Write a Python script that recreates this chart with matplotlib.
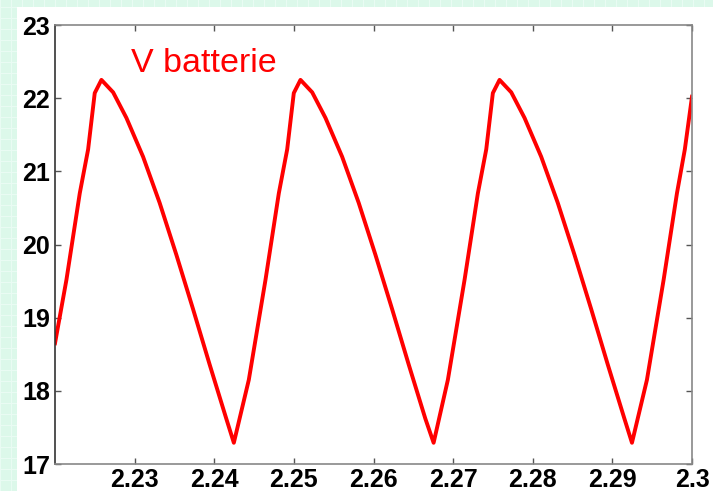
import matplotlib
matplotlib.use('Agg')
import matplotlib.pyplot as plt
from matplotlib.patches import Rectangle
from matplotlib.lines import Line2D

# battery voltage
t = [2.2200, 2.22144, 2.22311, 2.22416, 2.22499, 2.22583, 2.22730, 2.22897, 2.23106, 2.23314,
     2.23524, 2.23733, 2.23942, 2.24151, 2.24246,
     2.24434, 2.24644, 2.24811, 2.24916, 2.24999, 2.25083, 2.25230, 2.25397, 2.25606, 2.25814,
     2.26024, 2.26233, 2.26442, 2.26651, 2.26755,
     2.26934, 2.27144, 2.27311, 2.27416, 2.27499, 2.27583, 2.27730, 2.27897, 2.28106, 2.28314,
     2.28524, 2.28733, 2.28942, 2.29151, 2.29246,
     2.29434, 2.29644, 2.29811, 2.29910, 2.30000]
v_batt = [18.65, 19.52, 20.70, 21.30, 22.07, 22.25, 22.08, 21.73, 21.20, 20.57,
          19.86, 19.12, 18.36, 17.62, 17.29,
          18.15, 19.52, 20.70, 21.30, 22.07, 22.25, 22.08, 21.73, 21.20, 20.57,
          19.86, 19.12, 18.36, 17.62, 17.29,
          18.15, 19.52, 20.70, 21.30, 22.07, 22.25, 22.08, 21.73, 21.20, 20.57,
          19.86, 19.12, 18.36, 17.62, 17.29,
          18.15, 19.52, 20.70, 21.30, 22.02]

xticks = [2.23, 2.24, 2.25, 2.26, 2.27, 2.28, 2.29, 2.30]
xlabels = ['2.23', '2.24', '2.25', '2.26', '2.27', '2.28', '2.29', '2.3']
yticks = [17, 18, 19, 20, 21, 22, 23]

W, H = 713, 491
fig = plt.figure(figsize=(W / 100, H / 100), dpi=100, facecolor='#dcf8ea')
# slide-like background: pale grid strip with a white panel
for x in range(0, W, 11):
    fig.add_artist(Line2D([x / W, x / W], [0, 1], color='#e9fbf3', lw=0.8, zorder=0))
for y in range(0, H, 11):
    fig.add_artist(Line2D([0, 1], [y / H, y / H], color='#e9fbf3', lw=0.8, zorder=0))
fig.add_artist(Rectangle((17 / W, 0), 1, 1 - 7 / H, transform=fig.transFigure,
                         facecolor='white', edgecolor='none', zorder=1))

ax = fig.add_axes([55 / W, 27 / H, 637 / W, 439 / H])
ax.set_zorder(2)
ax.plot(t, v_batt, color='#ff0000', lw=2.8, solid_joinstyle='round')
ax.set_xlim(2.22, 2.30)
ax.set_ylim(17, 23)
ax.set_xticks(xticks)
ax.set_xticklabels(xlabels)
ax.set_yticks(yticks)
for lab in ax.get_xticklabels() + ax.get_yticklabels():
    lab.set_fontfamily('Liberation Sans'); lab.set_fontweight('bold'); lab.set_fontsize(18)
ax.tick_params(direction='in', length=4.5, width=1, color='#555555', top=True, right=True)
ax.tick_params(axis='y', pad=3.5)
ax.tick_params(axis='x', pad=3)
for s in ax.spines.values():
    s.set_color('#888888'); s.set_linewidth(1.2)
ax.spines['left'].set_color('#333333')
ax.text(2.2295, 22.47, 'V batterie', color='#ff0000', fontsize=24.5,
        fontfamily='Liberation Sans', va='center', ha='left')

fig.savefig('out.png', dpi=100, facecolor=fig.get_facecolor())
